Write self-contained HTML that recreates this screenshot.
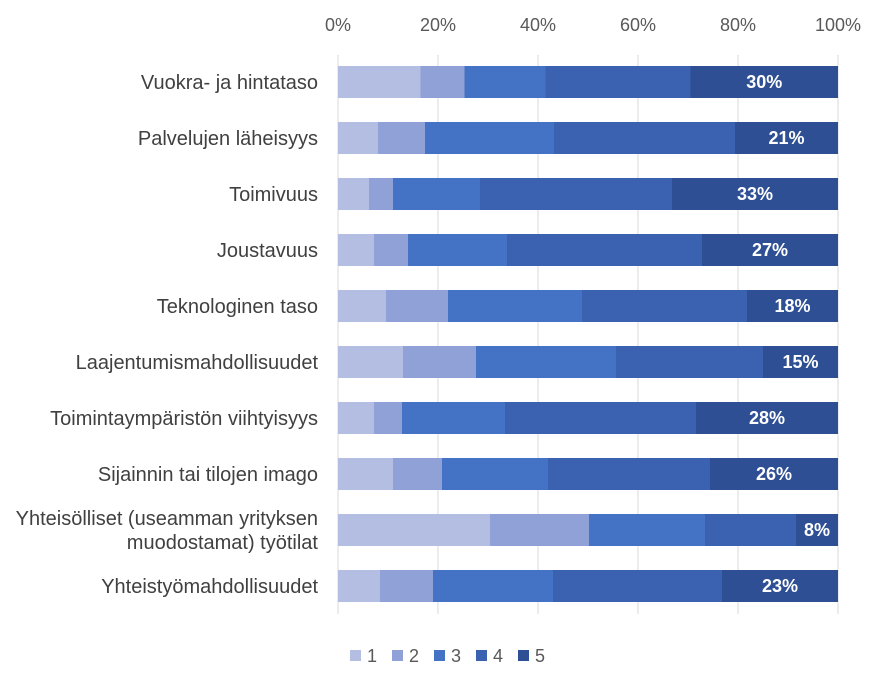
<!DOCTYPE html>
<html><head><meta charset="utf-8"><style>
body{margin:0;background:#fff;font-family:"Liberation Sans",sans-serif;}
svg text{font-family:"Liberation Sans",sans-serif;}
</style></head><body>
<svg id="c" width="871" height="687"></svg>
<script>
const categories=["Vuokra- ja hintataso","Palvelujen läheisyys","Toimivuus","Joustavuus","Teknologinen taso","Laajentumismahdollisuudet","Toimintaympäristön viihtyisyys","Sijainnin tai tilojen imago","Yhteisölliset (useamman yrityksen|muodostamat) työtilat","Yhteistyömahdollisuudet"];
const s1=[16.5,8,6.2,7.2,9.6,13,7.2,11,30.4,8.4];
const s2=[8.8,9.4,4.8,6.8,12.4,14.6,5.6,9.8,19.8,10.6];
const s3=[16.2,25.8,17.4,19.8,26.8,28,20.6,21.2,23.2,24];
const s4=[29,36.2,38.4,39,33,29.4,38.2,32.4,18.2,33.8];
const s5=[29.5,20.6,33.2,27.2,18.2,15,28.4,25.6,8.4,23.2];
const s5Labels=["30%","21%","33%","27%","18%","15%","28%","26%","8%","23%"];
const ticks=[0,20,40,60,80,100];
const seriesNames=["1","2","3","4","5"];
const colors=["#b4bde2","#8fa1d6","#4472c4","#3a62b0","#2e4f94"];
const NS="http://www.w3.org/2000/svg",svg=document.getElementById('c');
const x=v=>338+v*5, yc=i=>82+i*56, bh=32;
function mk(t,a,p){const e=document.createElementNS(NS,t);for(const k in a)e.setAttribute(k,a[k]);(p||svg).appendChild(e);return e;}
ticks.forEach(t=>{
 const l=mk('line',{x1:x(t),x2:x(t),y1:55,y2:614,stroke:'#d9d9d9','stroke-width':1});
 
 
 const tx=mk('text',{x:x(t),y:31,'text-anchor':'middle','font-size':18,fill:'#595959'});
 tx.textContent=t+'%';
 
 
});
const series=[s1,s2,s3,s4,s5];
categories.forEach((c,i)=>{
 let acc=0;
 series.forEach((s,j)=>{
  const r=mk('rect',{x:x(acc),y:yc(i)-bh/2,width:s[i]*5,height:bh,fill:colors[j]});
  
  
  acc+=s[i];
 });
 const v=mk('text',{x:x(acc-s5[i]/2),y:yc(i)+6,'text-anchor':'middle','font-size':18,'font-weight':'bold',fill:'#fff'});
 v.textContent=s5Labels[i];
 
 
 const parts=c.split('|');
 const lt=mk('text',{x:318,'text-anchor':'end','font-size':20,fill:'#404040'});
 
 
 parts.forEach((p,k)=>{const ts=mk('tspan',{x:318,y:yc(i)+7+(k-(parts.length-1)/2)*24},lt);ts.textContent=p;});
});
seriesNames.forEach((n,j)=>{
 const lx=350+j*42;
 const r=mk('rect',{x:lx,y:650,width:11,height:11,fill:colors[j]});
 
 
 const t=mk('text',{x:lx+17,y:662,'font-size':18,fill:'#595959'});
 t.textContent=n;
 
 
});
</script>
</body></html>
